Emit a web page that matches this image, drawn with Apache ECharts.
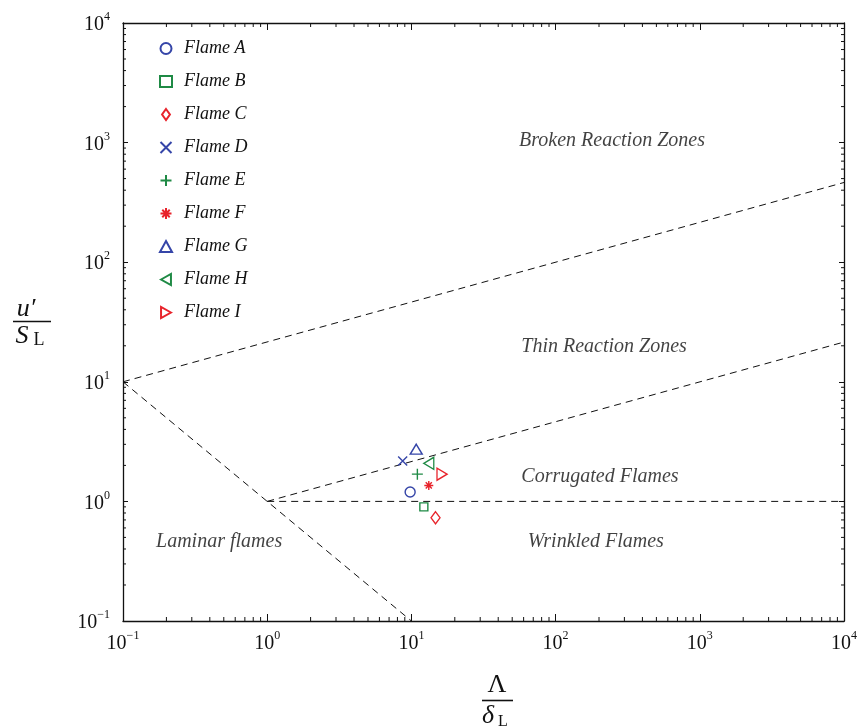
<!DOCTYPE html>
<html><head><meta charset="utf-8">
<script src="https://cdn.jsdelivr.net/npm/echarts@6/dist/echarts.min.js"></script>
<style>html,body{margin:0;padding:0;background:#fff}#c{width:859px;height:727px}</style>
</head><body><div id="c"></div>
<script>
// ---------- data ----------
const flameNames = ['Flame A','Flame B','Flame C','Flame D','Flame E','Flame F','Flame G','Flame H','Flame I'];
const flameX = [9.8, 12.2, 14.7, 8.7, 11.0, 13.2, 10.8, 13.2, 16.3];
const flameY = [1.20, 0.90, 0.73, 2.18, 1.69, 1.36, 2.73, 2.08, 1.69];

const xTickExps = [-1, 0, 1, 2, 3, 4];
const yTickExps = [-1, 0, 1, 2, 3, 4];

const brokenLineX = [0.1, 10000];
const brokenLineY = [10, 464];
const thinLineX = [1, 10000];
const thinLineY = [1, 21.5];
const corrugatedLineX = [1, 10000];
const corrugatedLineY = [1, 1];
const laminarLineX = [0.1, 10];
const laminarLineY = [10, 0.1];

const regionNames = ['Broken Reaction Zones','Thin Reaction Zones','Corrugated Flames','Wrinkled Flames','Laminar flames'];
const regionX = [246, 217, 203, 190, 0.464];
const regionY = [1030, 19.5, 1.60, 0.458, 0.458];

// ---------- styles ----------
const BLUE = '#3545a8', GREEN = '#1f8a45', RED = '#e8232b';
const flameColors = [BLUE, GREEN, RED, BLUE, GREEN, RED, BLUE, GREEN, RED];
const flameSymbols = [
  'circle',
  'rect',
  'path://M5 0L10 7L5 14L0 7Z',
  'path://M0 0L10 10M10 0L0 10',
  'path://M5 0L5 10M0 5L10 5',
  'path://M5 0L5 10M0 5L10 5M1.6 1.6L8.4 8.4M8.4 1.6L1.6 8.4',
  'path://M5 0L10 9L0 9Z',
  'path://M0 5L9 0L9 10Z',
  'path://M10 5L1 0L1 10Z'
];
const flameSizes = [10, 8, [9, 12], 9, 11, 9, [12, 10], [10, 12], [10, 12]];
const SERIF = '"Liberation Serif", "Times New Roman", serif';
const INK = '#111111';

const xMin = Math.pow(10, xTickExps[0]), xMax = Math.pow(10, xTickExps[xTickExps.length - 1]);
const yMin = Math.pow(10, yTickExps[0]), yMax = Math.pow(10, yTickExps[yTickExps.length - 1]);

function powLabel(v) {
  const e = Math.round(Math.log10(v));
  return '{b|10}{s|' + (e < 0 ? '\u2212' + (-e) : String(e)) + '}';
}
const labelRich = {
  b: { fontFamily: SERIF, fontSize: 20, color: INK, verticalAlign: 'bottom', lineHeight: 24 },
  s: { fontFamily: SERIF, fontSize: 12, color: INK, verticalAlign: 'top', lineHeight: 12 }
};

function makeAxis(pos, isX, showLabel) {
  return {
    type: 'log', logBase: 10, position: pos,
    min: isX ? xMin : yMin, max: isX ? xMax : yMax,
    splitNumber: 5,
    axisLine: { show: true, onZero: false, lineStyle: { color: INK, width: 1.3 } },
    axisTick: { show: true, inside: true, length: isX ? 7 : 5, lineStyle: { color: INK, width: 1 } },
    splitLine: { show: false },
    minorTick: { show: false },
    axisLabel: showLabel ? {
      show: true, formatter: powLabel, rich: labelRich,
      margin: isX ? 9 : 13
    } : { show: false }
  };
}

const dash = { type: [7, 5], width: 1, color: INK };
function lineSeries(xs, ys) {
  return {
    type: 'line', symbol: 'none', silent: true, z: 2,
    lineStyle: dash, animation: false,
    data: xs.map((x, i) => [x, ys[i]])
  };
}

const flameSeries = flameNames.map((n, i) => ({
  type: 'scatter', name: n, z: 5,
  symbol: flameSymbols[i], symbolSize: flameSizes[i],
  itemStyle: { color: 'rgba(0,0,0,0)', borderColor: flameColors[i], borderWidth: 1.4, opacity: 1 },
  data: [[flameX[i], flameY[i]]]
}));

const regionSeries = {
  type: 'scatter', silent: true, symbolSize: 1, z: 4,
  itemStyle: { color: 'rgba(0,0,0,0)' },
  label: {
    show: true, position: 'inside', formatter: '{b}',
    fontFamily: SERIF, fontStyle: 'italic', fontSize: 20, color: INK
  },
  data: regionNames.map((n, i) => ({ name: n, value: [regionX[i], regionY[i]] }))
};

const minorSeries = {
  type: 'custom', silent: true, z: 6, clip: false,
  data: [[1, 1]],
  renderItem: function (params, api) {
    const ch = [];
    const st = { stroke: INK, lineWidth: 1 };
    for (let k = 0; k < xTickExps.length - 1; k++) {
      for (let m = 2; m <= 9; m++) {
        const v = m * Math.pow(10, xTickExps[k]);
        const pb = api.coord([v, yMin]);
        const pt = api.coord([v, yMax]);
        ch.push({ type: 'line', shape: { x1: pb[0], y1: pb[1], x2: pb[0], y2: pb[1] - 4 }, style: st });
        ch.push({ type: 'line', shape: { x1: pt[0], y1: pt[1], x2: pt[0], y2: pt[1] + 4 }, style: st });
      }
    }
    for (let k = 0; k < yTickExps.length - 1; k++) {
      for (let m = 2; m <= 9; m++) {
        const v = m * Math.pow(10, yTickExps[k]);
        const pl = api.coord([xMin, v]);
        const pr = api.coord([xMax, v]);
        ch.push({ type: 'line', shape: { x1: pl[0], y1: pl[1], x2: pl[0] + 3, y2: pl[1] }, style: st });
        ch.push({ type: 'line', shape: { x1: pr[0], y1: pr[1], x2: pr[0] - 3, y2: pr[1] }, style: st });
      }
    }
    return { type: 'group', children: ch };
  }
};

const chart = echarts.init(document.getElementById('c'), null, { renderer: 'canvas' });
chart.setOption({
  animation: false,
  backgroundColor: '#fff',
  grid: { left: 123, top: 23, width: 721, height: 598, containLabel: false, outerBoundsMode: 'none' },
  xAxis: [makeAxis('bottom', true, true), makeAxis('top', true, false)],
  yAxis: [makeAxis('left', false, true), makeAxis('right', false, false)],
  legend: {
    orient: 'vertical', left: 159, top: 39, padding: 0,
    itemWidth: 12, itemHeight: 11, itemGap: 14,
    data: flameNames,
    itemStyle: { opacity: 1 },
    textStyle: { fontFamily: SERIF, fontStyle: 'italic', fontSize: 18, color: INK, lineHeight: 19, padding: [0, 0, 0, 7] },
    selectedMode: false
  },
  series: [
    lineSeries(brokenLineX, brokenLineY),
    lineSeries(thinLineX, thinLineY),
    lineSeries(corrugatedLineX, corrugatedLineY),
    lineSeries(laminarLineX, laminarLineY),
    regionSeries,
    minorSeries
  ].concat(flameSeries),
  graphic: [
    { type: 'text', x: 26, y: 309, style: { text: 'u\u2032', font: 'italic 26px ' + SERIF, textAlign: 'center', textVerticalAlign: 'middle', fill: INK } },
    { type: 'line', shape: { x1: 13, y1: 321.5, x2: 51, y2: 321.5 }, style: { stroke: INK, lineWidth: 1.6 } },
    { type: 'text', x: 22, y: 336, style: { text: 'S', font: 'italic 26px ' + SERIF, textAlign: 'center', textVerticalAlign: 'middle', fill: INK } },
    { type: 'text', x: 39, y: 340, style: { text: 'L', font: '18px ' + SERIF, textAlign: 'center', textVerticalAlign: 'middle', fill: INK } },
    { type: 'text', x: 497, y: 685, style: { text: '\u039B', font: '26px ' + SERIF, textAlign: 'center', textVerticalAlign: 'middle', fill: INK } },
    { type: 'line', shape: { x1: 482, y1: 700.5, x2: 513, y2: 700.5 }, style: { stroke: INK, lineWidth: 1.6 } },
    { type: 'text', x: 488, y: 716, style: { text: '\u03B4', font: 'italic 26px ' + SERIF, textAlign: 'center', textVerticalAlign: 'middle', fill: INK } },
    { type: 'text', x: 503, y: 722, style: { text: 'L', font: '16px ' + SERIF, textAlign: 'center', textVerticalAlign: 'middle', fill: INK } }
  ]
});
</script>
</body></html>
